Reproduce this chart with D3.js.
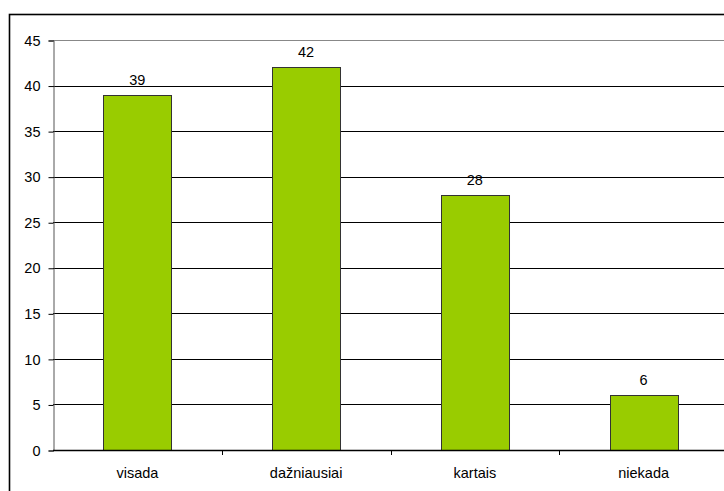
<!DOCTYPE html>
<html><head><meta charset="utf-8">
<script src="https://cdn.jsdelivr.net/npm/d3@7"></script>
<style>body{margin:0;background:#fff;overflow:hidden}svg{display:block}</style>
</head><body>
<script>
const categories = ["visada", "dažniausiai", "kartais", "niekada"];
const values = [39, 42, 28, 6];
const yTicks = [0, 5, 10, 15, 20, 25, 30, 35, 40, 45];

const W = 724, H = 491;
const svg = d3.select("body").append("svg").attr("width", W).attr("height", H);
const font = "'Liberation Sans', Arial, sans-serif";
const fs = 14.5;

// outer chart border
svg.append("rect").attr("x", 9.5).attr("y", 14.5).attr("width", 760).attr("height", 520)
  .attr("fill", "none").attr("stroke", "#000").attr("stroke-width", 1.6);

const pLeft = 53, pTop = 40, pBottom = 450, pRight = 53 + 4 * 168.75;
const x = d3.scaleBand().domain(categories).range([pLeft, pRight]).paddingInner(0.597).paddingOuter(0.2985);
const y = d3.scaleLinear().domain([0, 45]).range([pBottom, pTop]);

// gridlines
svg.append("g").selectAll("line").data(yTicks.filter(t => t > 0)).join("line")
  .attr("x1", pLeft).attr("x2", pRight)
  .attr("y1", d => Math.round(y(d)) + 0.5).attr("y2", d => Math.round(y(d)) + 0.5)
  .attr("stroke", d => d === 45 ? "#888" : "#000").attr("stroke-width", 1);

// y axis
const yAxis = d3.axisLeft(y).tickValues(yTicks).tickSize(5).tickPadding(8);
const gy = svg.append("g").attr("transform", `translate(${pLeft + 0.5},0.5)`).call(yAxis);
gy.select(".domain").attr("stroke", "#555");
gy.selectAll(".tick line").attr("stroke", "#000");
gy.selectAll("text").attr("font-family", font).attr("font-size", fs).attr("fill", "#000");

// bars
svg.append("g").selectAll("rect").data(values).join("rect")
  .attr("x", (d, i) => Math.round(x(categories[i])) + 0.5)
  .attr("y", d => Math.round(y(d)) + 0.5)
  .attr("width", x.bandwidth())
  .attr("height", d => pBottom - Math.round(y(d)))
  .attr("fill", "#99CC00").attr("stroke", "#333").attr("stroke-width", 1);

// value labels
svg.append("g").selectAll("text").data(values).join("text")
  .attr("x", (d, i) => x(categories[i]) + x.bandwidth() / 2)
  .attr("y", d => y(d) - 10)
  .attr("text-anchor", "middle").attr("font-family", font).attr("font-size", fs)
  .text(d => d);

// x axis
const xb = d3.scaleLinear().domain([0, 4]).range([pLeft, pRight]);
svg.append("line").attr("x1", pLeft).attr("x2", pRight).attr("y1", pBottom + 0.5).attr("y2", pBottom + 0.5)
  .attr("stroke", "#000").attr("stroke-width", 1.5);
svg.append("g").selectAll("line").data([1, 2, 3]).join("line")
  .attr("x1", d => Math.round(xb(d)) + 0.5).attr("x2", d => Math.round(xb(d)) + 0.5)
  .attr("y1", pBottom).attr("y2", pBottom + 5).attr("stroke", "#000");
svg.append("g").selectAll("text").data(categories).join("text")
  .attr("x", d => x(d) + x.bandwidth() / 2).attr("y", 478)
  .attr("text-anchor", "middle").attr("font-family", font).attr("font-size", fs)
  .text(d => d);
</script>
</body></html>
